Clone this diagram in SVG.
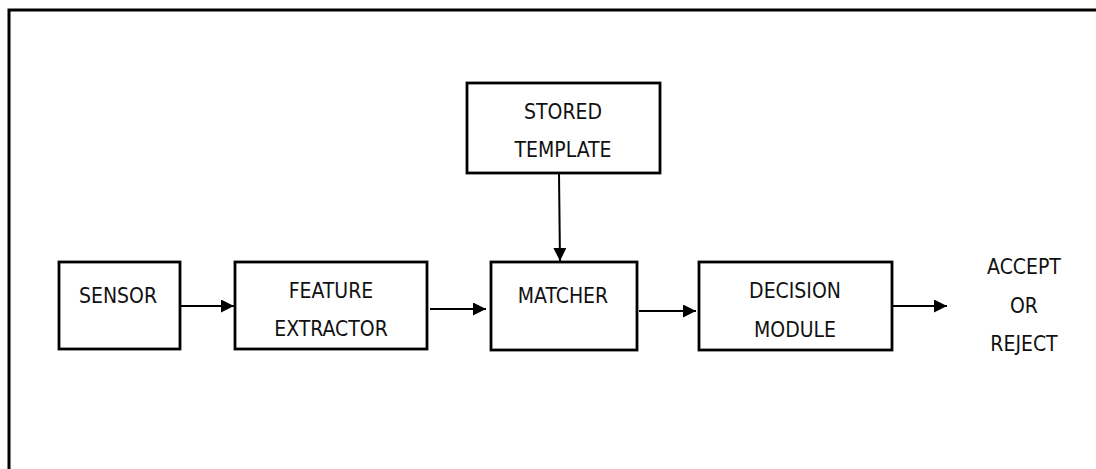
<svg xmlns="http://www.w3.org/2000/svg" width="1096" height="469" viewBox="0 0 1096 469">
<style>
.box{fill:#fff;stroke:#000;stroke-width:2.8}
.t{font-family:"Liberation Sans Narrow","DejaVu Sans Condensed","Liberation Sans",sans-serif;font-size:21px;fill:#111;text-anchor:middle}
.c{stroke:#000;stroke-width:2;fill:none}
</style>
<defs>
<marker id="ah" viewBox="0 0 13 13" refX="13" refY="6.5" markerWidth="13" markerHeight="13" markerUnits="userSpaceOnUse" orient="auto">
<path d="M0,0 L13,6.5 L0,13 Z" fill="#000"/>
</marker>
</defs>
<path d="M9,469 V10 H1096" fill="none" stroke="#000" stroke-width="3"/>
<g id="sensor"><rect class="box" x="59" y="262" width="121" height="87"/><text class="t" x="118" y="303">SENSOR</text></g>
<g id="feature"><rect class="box" x="235" y="262" width="192" height="87"/><text class="t" x="331" y="298">FEATURE</text><text class="t" x="331" y="336">EXTRACTOR</text></g>
<g id="template"><rect class="box" x="467" y="83" width="193" height="90"/><text class="t" x="563" y="119">STORED</text><text class="t" x="563" y="157">TEMPLATE</text></g>
<g id="matcher"><rect class="box" x="491" y="262" width="146" height="88"/><text class="t" x="563" y="303">MATCHER</text></g>
<g id="decision"><rect class="box" x="699" y="262" width="193" height="88"/><text class="t" x="795" y="298">DECISION</text><text class="t" x="795" y="337">MODULE</text></g>
<g id="output"><text class="t" x="1024" y="274">ACCEPT</text><text class="t" x="1024" y="313">OR</text><text class="t" x="1024" y="351">REJECT</text></g>
<g id="connectors">
<line class="c" x1="181" y1="306" x2="234" y2="306" marker-end="url(#ah)"/>
<line class="c" x1="430" y1="309" x2="486" y2="309" marker-end="url(#ah)"/>
<line class="c" x1="559" y1="174" x2="560" y2="261" marker-end="url(#ah)"/>
<line class="c" x1="639" y1="311" x2="696" y2="311" marker-end="url(#ah)"/>
<line class="c" x1="893" y1="306" x2="947" y2="306" marker-end="url(#ah)"/>
</g>
</svg>
